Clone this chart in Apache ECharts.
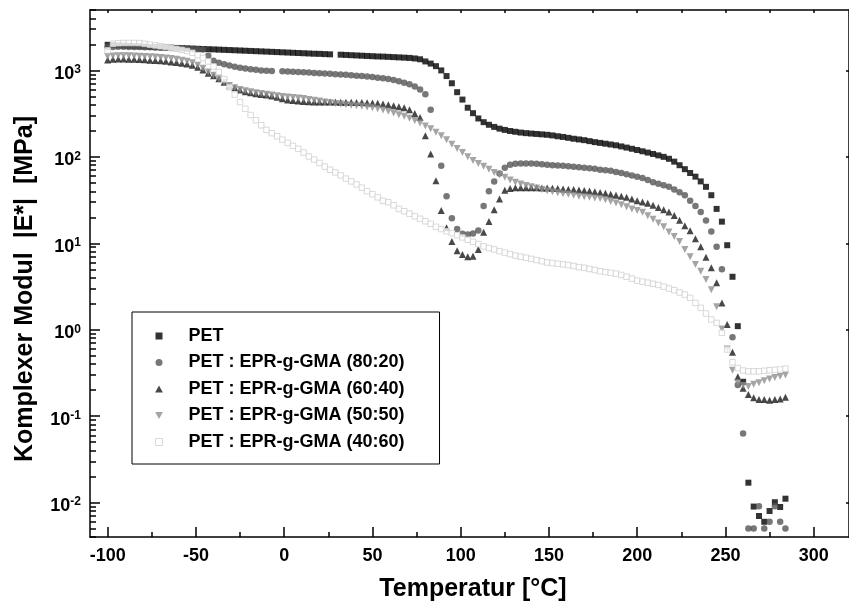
<!DOCTYPE html>
<html>
<head>
<meta charset="utf-8">
<title>Komplexer Modul</title>
<script src="https://cdn.jsdelivr.net/npm/echarts@6/dist/echarts.min.js"></script>
<style>
  html, body { margin: 0; padding: 0; background: #fff; }
  #chart { width: 849px; height: 608px; }
</style>
</head>
<body>
<div id="chart"></div>
<script>
// Measurement temperatures [°C]
const temps = [
  -100, -97, -94, -91, -88, -85, -82, -79, -76, -73,
  -70, -67, -64, -61, -58, -55, -52, -49, -46, -43,
  -40, -37, -34, -31, -28, -25, -22, -19, -16, -13,
  -10, -7, -4, -1, 2, 5, 8, 11, 14, 17,
  20, 23, 26, 29, 32, 35, 38, 41, 44, 47,
  50, 53, 56, 59, 62, 65, 68, 71, 74, 77,
  80, 83, 86, 89, 92, 95, 98, 101, 104, 107,
  110, 113, 116, 119, 122, 125, 128, 131, 134, 137,
  140, 143, 146, 149, 152, 155, 158, 161, 164, 167,
  170, 173, 176, 179, 182, 185, 188, 191, 194, 197,
  200, 203, 206, 209, 212, 215, 218, 221, 224, 227,
  230, 233, 236, 239, 242, 245, 248, 251, 254, 257,
  260, 263, 266, 269, 272, 275, 278, 281, 284
];

// |E*| [MPa] per blend; null = no reading at that temperature
const pet = [
  1980, 1960, 1945, 1930, 1920, 1905, 1895, 1885, 1870, 1860,
  1850, 1840, 1830, 1820, 1810, 1800, 1790, 1780, 1770, 1760,
  1750, 1740, 1730, 1720, 1710, 1700, 1690, 1680, 1670, 1660,
  1650, 1640, 1630, 1620, 1610, 1600, 1590, 1580, 1570, 1560,
  1555, 1545, 1535, null, 1520, 1510, 1500, 1490, 1480, 1470,
  1460, 1450, 1445, 1435, 1425, 1415, 1405, 1395, 1375, 1345,
  1270, 1200, 1120, 1000, 860, 710, 560, 460, 370, 320,
  278, 252, 235, 222, 212, 205, 199, 195, 191, 188,
  186, 184, 182, 180, 177, 173, 170, 166, 162, 159,
  156, 152, 148, 145, 142, 139, 136, 132, 128, 124,
  120, 116, 112, 108, 104, 100, 95, 88, 80, 72,
  65, 59, 52, 45, 36, 25, 17.8, 9.5, 4.1, 1.1,
  0.25, 0.017, 0.009, 0.007, 0.006, 0.008, 0.0101, 0.0089, 0.0111
];

const blend8020 = [
  1850, 1870, 1875, 1875, 1870, 1865, 1860, 1855, 1848, 1840,
  1832, 1825, 1815, 1805, 1795, 1785, 1775, 1760, 1740, 1480,
  1290, 1230, 1180, 1140, 1105, 1075, 1050, 1030, 1015, 1000,
  992, 985, null, 975, 970, 965, 958, 950, 943, 935,
  927, 920, 912, 905, 897, 890, 880, 870, 860, 850,
  840, 825, 810, 795, 775, 750, 720, 690, 650, 600,
  530, 350, null, 79, 35, 19.5, 14.6, 12.9, 12.6, 13.0,
  14.1, 27, 40, 52, 64, 75, 81, 83, 84, 84,
  84, 83, 82, 81, 80, 79.5, 79, 78, 77, 76,
  75, 74, 73, 71, 70, 69, 67, 65, 63, 61,
  59, 57, 54, 51, 49, 47, 45, 42, 39, 36,
  31, 27, 23, 18.3, 13.7, 9.1, 5.0, null, 0.82, 0.23,
  0.063, 0.005, 0.005, 0.0091, 0.005, 0.006, 0.0091, 0.006, 0.005
];

const blend6040 = [
  1320, 1345, 1355, 1355, 1350, 1345, 1335, 1325, 1315, 1300,
  1290, 1275, 1255, 1235, 1210, 1185, 1150, 1090, 1010, 930,
  870, 800, 730, 660, 630, 595, 565, 550, 538, 528,
  520, 505, 490, 470, 455, 448, 442, 438, 435, 432,
  432, 431, 430, 430, 429, 428, 427, 426, 425, 424,
  421, 416, 410, 402, 391, 380, 370, 350, 318, 285,
  175, 108, 53, 24, 15.1, 10.5, 8.2, 7.4, 7.0, 7.1,
  8.5, 13.4, 17.9, 24.5, 32.6, 41, 43, 44, 44, 44,
  44, 43.8, 43.7, 43.5, 43.2, 43, 42.6, 42.2, 41.8, 41.3,
  40.8, 40.2, 39.5, 38.8, 38, 37, 36, 35, 34, 32.5,
  31, 30, 29, 27.5, 26, 24.5, 23, 21, 18.5, 16,
  14, 11.3, 9.1, 6.9, 5.2, 3.5, 2.04, 1.15, 0.55, 0.285,
  0.21, 0.178, 0.163, 0.156, 0.156, 0.153, 0.156, 0.158, 0.166
];

const blend5050 = [
  1450, 1470, 1480, 1480, 1475, 1470, 1460, 1450, 1440, 1425,
  1410, 1390, 1370, 1345, 1315, 1280, 1230, 1150, 1060, 960,
  880, 800, 730, 670, 630, 600, 580, 565, 552, 540,
  530, 520, 510, 500, 492, 486, 480, 472, 462, 452,
  442, 432, 423, 415, 408, 402, 396, 390, 384, 378,
  370, 360, 348, 336, 322, 308, 295, 280, 264, 246,
  228, 212, 192, 175, 158, 140, 125, 112, 100, 91,
  84, 78, 72, 66, 62, 58, 54, 51, 48.5, 46.5,
  45, 43.5, 42, 40.5, 39.5, 38.5, 37.5, 37, 36, 35,
  34.5, 34, 33.5, 33, 32, 30.5, 29.3, 28, 26.5, 25,
  24, 22.8, 20.8, 19, 17.2, 15.5, 13.5, 12, 10.5, 8.5,
  7, 5.7, 4.75, 3.8, 2.9, 1.84, 1.02, 0.6, 0.34, 0.243,
  0.226, 0.22, 0.234, 0.243, 0.257, 0.27, 0.28, 0.29, 0.30
];

const blend4060 = [
  1706, 2030, 2065, 2075, 2075, 2075, 2070, 2030, 1985, 1945,
  1905, 1865, 1820, 1775, 1730, 1680, 1600, 1500, 1390, 1270,
  1110, 960, 790, 640, 525, 430, 360, 305, 265, 232,
  205, 188, 173, 158, 145, 134, 124, 112, 101, 93,
  85, 77, 71, 66, 61, 56, 52, 48, 44, 40,
  37, 34, 31, 29.8, 27.5, 25, 23.5, 22, 20.5, 19.2,
  18, 16.8, 15.5, 14.6, 13.8, 13.1, 12.4, 11.7, 11.0, 10.4,
  9.8, 9.2, 8.8, 8.5, 8.1, 7.8, 7.5, 7.2, 7.0, 6.8,
  6.6, 6.4, 6.2, 6.0, 5.9, 5.8, 5.7, 5.6, 5.45, 5.3,
  5.2, 5.05, 4.9, 4.75, 4.65, 4.55, 4.45, 4.3, 4.1, 3.9,
  3.7, 3.6, 3.5, 3.4, 3.3, 3.15, 3.0, 2.87, 2.7, 2.55,
  2.34, 2.04, 1.79, 1.54, 1.31, 1.2, 0.92, 0.59, 0.42, 0.36,
  0.337, 0.33, 0.33, 0.33, 0.335, 0.34, 0.343, 0.347, 0.355
];

const seriesNames = [
  'PET',
  'PET : EPR-g-GMA (80:20)',
  'PET : EPR-g-GMA (60:40)',
  'PET : EPR-g-GMA (50:50)',
  'PET : EPR-g-GMA (40:60)'
];

// Axis ticks
const xMajorTicks = [-100, -50, 0, 50, 100, 150, 200, 250, 300];
const xMinorTicks = [-75, -25, 25, 75, 125, 175, 225, 275];
const xTopTicks = [-100, -75, -50, -25, 0, 25, 50, 75, 100, 125, 150, 175, 200, 225, 250, 275, 300];
const yDecades = [0.01, 0.1, 1, 10, 100, 1000];
const yMinorFactors = [2, 3, 4, 5, 6, 7, 8, 9];

const FONT = '"Liberation Sans", Arial, Helvetica, sans-serif';
const X_MIN = -110, X_MAX = 320;
const Y_MIN = 0.004, Y_MAX = 5000;

const yMinorTicks = [];
[0.001, 0.01, 0.1, 1, 10, 100, 1000].forEach(function (d) {
  yMinorFactors.forEach(function (f) {
    const v = +(d * f).toPrecision(3);
    if (v >= Y_MIN && v <= Y_MAX) yMinorTicks.push(v);
  });
});

function pairs(vals) {
  return temps.map(function (t, i) { return [t, vals[i]]; })
              .filter(function (p) { return p[1] !== null; });
}

const SQUARE = 'path://M0,0H10V10H0Z';
const CIRCLE = 'path://M5,0A5,5,0,1,1,5,10A5,5,0,1,1,5,0Z';
const TRI_UP = 'path://M5,0L10,9L0,9Z';
const TRI_DOWN = 'path://M0,0L10,0L5,9Z';

const axisLine = { show: true, onZero: false, lineStyle: { color: '#000', width: 1.5 } };
const hiddenLine = { show: false, onZero: false };
const tickStyle = { color: '#000', width: 1.5 };

const chart = echarts.init(document.getElementById('chart'), null, { renderer: 'canvas' });

const option = {
  animation: false,
  backgroundColor: '#fff',
  grid: [
    { left: 90, top: 10, right: 0, bottom: 71, containLabel: false },
    { left: 90, top: 10, right: 0, bottom: 71, containLabel: false }
  ],
  xAxis: [
    {
      gridIndex: 0, type: 'value', position: 'bottom', min: X_MIN, max: X_MAX,
      axisLine: axisLine,
      axisTick: { show: true, inside: true, length: 10, lineStyle: tickStyle, customValues: xMajorTicks },
      axisLabel: {
        show: true, customValues: xMajorTicks, margin: 10,
        color: '#000', fontSize: 18, fontWeight: 'bold', fontFamily: FONT
      },
      splitLine: { show: false }
    },
    {
      gridIndex: 0, type: 'value', position: 'top', min: X_MIN, max: X_MAX,
      axisLine: axisLine,
      axisTick: { show: true, inside: true, length: 3, lineStyle: tickStyle, customValues: xTopTicks },
      axisLabel: { show: false },
      splitLine: { show: false }
    },
    {
      gridIndex: 1, type: 'value', position: 'bottom', min: X_MIN, max: X_MAX,
      axisLine: hiddenLine,
      axisTick: { show: true, inside: true, length: 5, lineStyle: tickStyle, customValues: xMinorTicks },
      axisLabel: { show: false },
      splitLine: { show: false }
    }
  ],
  yAxis: [
    {
      gridIndex: 0, type: 'log', position: 'left', min: Y_MIN, max: Y_MAX, logBase: 10,
      axisLine: axisLine,
      axisTick: { show: true, inside: true, length: 10, lineStyle: tickStyle, customValues: yDecades },
      axisLabel: {
        show: true, customValues: yDecades, margin: 9,
        padding: [7, 0, 0, 0],
        formatter: function (v) {
          return '{b|10}{e|' + Math.round(Math.log10(v)) + '}';
        },
        rich: {
          b: { fontSize: 18, fontWeight: 'bold', fontFamily: FONT, color: '#000', lineHeight: 20 },
          e: { fontSize: 12, fontWeight: 'bold', fontFamily: FONT, color: '#000', verticalAlign: 'top', lineHeight: 12 }
        }
      },
      splitLine: { show: false }
    },
    {
      gridIndex: 0, type: 'log', position: 'right', min: Y_MIN, max: Y_MAX, logBase: 10,
      axisLine: axisLine,
      axisTick: { show: true, inside: true, length: 3, lineStyle: tickStyle, customValues: yDecades },
      axisLabel: { show: false },
      splitLine: { show: false }
    },
    {
      gridIndex: 1, type: 'log', position: 'left', min: Y_MIN, max: Y_MAX, logBase: 10,
      axisLine: hiddenLine,
      axisTick: { show: true, inside: true, length: 6, lineStyle: tickStyle, customValues: yMinorTicks },
      axisLabel: { show: false },
      splitLine: { show: false }
    }
  ],
  legend: {
    orient: 'vertical',
    left: 132, top: 312,
    itemWidth: 49, itemHeight: 7, itemGap: 8.5,
    padding: [15, 35, 13, 23],
    borderColor: '#000', borderWidth: 1,
    selectedMode: false,
    textStyle: { color: '#000', fontSize: 18, fontWeight: 'bold', fontFamily: FONT, lineHeight: 18 },
    data: [
      { name: seriesNames[0], icon: SQUARE },
      { name: seriesNames[1], icon: CIRCLE },
      { name: seriesNames[2], icon: TRI_UP },
      { name: seriesNames[3], icon: TRI_DOWN },
      { name: seriesNames[4], icon: SQUARE, itemStyle: { color: '#fff', borderColor: '#cfcfcf', borderWidth: 1 } }
    ]
  },
  graphic: [
    {
      type: 'text', x: 473, y: 589,
      style: { text: 'Temperatur [°C]', fill: '#000', fontSize: 25, fontWeight: 'bold', fontFamily: FONT, align: 'center', verticalAlign: 'middle' }
    },
    {
      type: 'text', x: 25, y: 289, rotation: Math.PI / 2,
      style: { text: 'Komplexer Modul  |E*|  [MPa]', fill: '#000', fontSize: 25, fontWeight: 'bold', fontFamily: FONT, align: 'center', verticalAlign: 'middle' }
    }
  ],
  series: [
    {
      name: seriesNames[0], type: 'scatter', xAxisIndex: 0, yAxisIndex: 0,
      symbol: 'rect', symbolSize: 6,
      itemStyle: { color: '#000' },
      data: pairs(pet)
    },
    {
      name: seriesNames[1], type: 'scatter', xAxisIndex: 0, yAxisIndex: 0,
      symbol: 'circle', symbolSize: 6.5,
      itemStyle: { color: '#555' },
      data: pairs(blend8020)
    },
    {
      name: seriesNames[2], type: 'scatter', xAxisIndex: 0, yAxisIndex: 0,
      symbol: 'triangle', symbolSize: 7,
      itemStyle: { color: '#1a1a1a' },
      data: pairs(blend6040)
    },
    {
      name: seriesNames[3], type: 'scatter', xAxisIndex: 0, yAxisIndex: 0,
      symbol: 'triangle', symbolRotate: 180, symbolSize: 7,
      itemStyle: { color: '#8f8f8f' },
      data: pairs(blend5050)
    },
    {
      name: seriesNames[4], type: 'scatter', xAxisIndex: 0, yAxisIndex: 0,
      symbol: 'rect', symbolSize: 5.5,
      itemStyle: { color: '#fff', borderColor: '#cfcfcf', borderWidth: 1 },
      data: pairs(blend4060)
    }
  ]
};

chart.setOption(option);
</script>
</body>
</html>
